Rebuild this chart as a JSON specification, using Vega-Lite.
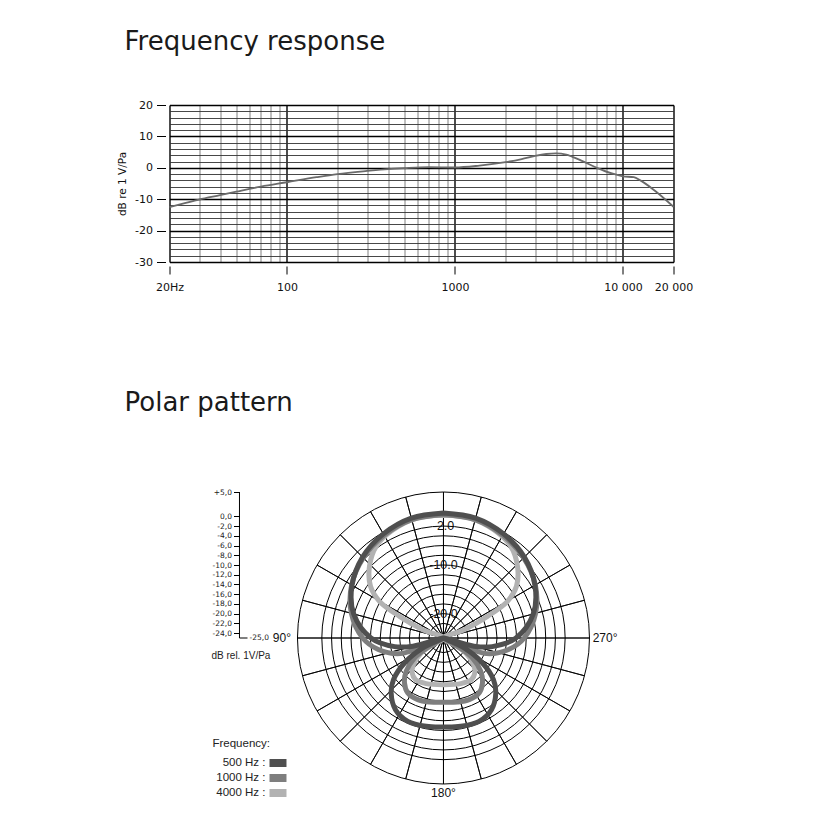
{
 "$schema": "https://vega.github.io/schema/vega-lite/v6.json",
 "background": "white",
 "padding": {"left": 117.5, "top": 29, "right": 10, "bottom": 10},
 "bounds": "flush",
 "spacing": 230,
 "config": {"view": {"stroke": null}, "font": "DejaVu Sans"},
 "vconcat": [
  {
   "width": 504, "height": 157,
   "title": {"text": "Frequency response", "anchor": "start", "frame": "group", "dx": -45, "offset": 44, "font": "DejaVu Sans", "fontSize": 26, "fontWeight": "normal", "color": "#1a1a1a"},
   "data": {"values": [
    {"f":20,"db":-12.5},{"f":25,"db":-11.2},{"f":30,"db":-10.1},{"f":40,"db":-8.7},{"f":50,"db":-7.6},{"f":70,"db":-6.0},{"f":100,"db":-4.6},{"f":150,"db":-3.0},{"f":200,"db":-2.0},{"f":300,"db":-1.0},{"f":400,"db":-0.4},{"f":500,"db":-0.1},{"f":700,"db":0.2},{"f":1000,"db":0.1},{"f":1400,"db":0.7},{"f":2000,"db":1.8},{"f":2500,"db":2.8},{"f":3000,"db":3.8},{"f":3500,"db":4.4},{"f":4000,"db":4.6},{"f":4600,"db":4.2},{"f":5000,"db":3.5},{"f":5700,"db":2.2},{"f":7000,"db":0.0},{"f":8600,"db":-1.8},{"f":10000,"db":-2.7},{"f":11600,"db":-3.0},{"f":12700,"db":-4.0},{"f":15500,"db":-7.3},{"f":20000,"db":-12.4}
   ]},
   "layer": [
    {
     "mark": {"type": "line", "color": "#6a6a6a", "strokeWidth": 1.8, "interpolate": "monotone"},
     "encoding": {
      "x": {"field": "f", "type": "quantitative", "scale": {"type": "log", "domain": [20, 20000], "nice": false},
            "axis": {"orient": "bottom", "values": [20,30,40,50,60,70,80,90,100,200,300,400,500,600,700,800,900,1000,2000,3000,4000,5000,6000,7000,8000,9000,10000,20000],
                     "grid": true,
                     "gridColor": {"condition": {"test": "datum.value == 20 || datum.value == 100 || datum.value == 1000 || datum.value == 10000 || datum.value == 20000", "value": "#000000"}, "value": "#808080"},
                     "gridWidth": {"condition": {"test": "datum.value == 20 || datum.value == 100 || datum.value == 1000 || datum.value == 10000 || datum.value == 20000", "value": 1.4}, "value": 1},
                     "labels": false, "ticks": false, "domain": false, "title": null}},
      "y": {"field": "db", "type": "quantitative", "scale": {"domain": [-30, 20], "nice": false, "zero": false},
            "axis": {"orient": "left", "values": [-30,-28,-26,-24,-22,-20,-18,-16,-14,-12,-10,-8,-6,-4,-2,0,2,4,6,8,10,12,14,16,18,20],
                     "grid": true,
                     "gridColor": {"condition": {"test": "datum.value % 10 == 0", "value": "#000000"}, "value": "#333333"},
                     "gridWidth": {"condition": {"test": "datum.value % 10 == 0", "value": 1.3}, "value": 0.9},
                     "labels": false, "ticks": false, "domain": false, "title": null}}
     }
    },
    {
     "mark": {"type": "line", "opacity": 0},
     "encoding": {
      "x": {"field": "f", "type": "quantitative", "scale": {"type": "log", "domain": [20, 20000], "nice": false},
            "axis": {"orient": "bottom", "values": [20,100,1000,10000,20000], "grid": false, "domain": false, "ticks": true, "tickSize": 8, "tickColor": "#000000", "tickWidth": 1, "offset": 4, "labelPadding": 7,
                     "labelExpr": "datum.value == 20 ? '20Hz' : datum.value == 10000 ? '10 000' : datum.value == 20000 ? '20 000' : '' + datum.value",
                     "labelFont": "DejaVu Sans", "labelFontSize": 11, "labelColor": "#111111", "labelFlush": false, "labelOverlap": false, "title": null}},
      "y": {"field": "db", "type": "quantitative", "scale": {"domain": [-30, 20], "nice": false, "zero": false},
            "axis": {"orient": "left", "values": [-30,-20,-10,0,10,20], "grid": false, "domain": false, "ticks": true, "tickSize": 9, "tickColor": "#000000", "offset": 4, "labelPadding": 4,
                     "labelExpr": "datum.value < 0 ? '-' + abs(datum.value) : '' + datum.value",
                     "labelFont": "DejaVu Sans", "labelFontSize": 11, "labelColor": "#111111", "labelFlush": false, "labelOverlap": false,
                     "title": "dB re 1 V/Pa", "titleFont": "DejaVu Sans", "titleFontSize": 10.5, "titleFontWeight": "normal", "titleColor": "#111111", "titlePadding": 7}}
     }
    }
   ],
   "resolve": {"axis": {"x": "independent", "y": "independent"}}
  },
  {
   "width": 450, "height": 292,
   "title": {"text": "Polar pattern", "anchor": "start", "frame": "group", "dx": -45, "offset": 72, "font": "DejaVu Sans", "fontSize": 26, "fontWeight": "normal", "color": "#1a1a1a"},
   "resolve": {"axis": {"x": "independent", "y": "independent"}},
   "layer": [
    {
     "data": {"values": [{"level":5},{"level":0},{"level":-2},{"level":-4},{"level":-6},{"level":-8},{"level":-10},{"level":-12},{"level":-14},{"level":-16},{"level":-18},{"level":-20},{"level":-22},{"level":-24}]},
     "mark": {"type": "arc", "filled": false, "stroke": "#000000", "strokeWidth": 1, "theta": 0, "theta2": 6.2832},
     "encoding": {
      "x": {"datum": 0, "type": "quantitative", "scale": {"domain": [-56.3, 36.17], "nice": false, "zero": false}, "axis": null},
      "y": {"datum": 0, "type": "quantitative", "scale": {"domain": [-30, 30], "nice": false, "zero": false}, "axis": null},
      "radius": {"field": "level", "type": "quantitative", "scale": {"type": "linear", "domain": [-25, 5], "range": [0, 146], "zero": false}},
      "radius2": {"datum": -25}
     }
    },
    {
     "data": {"values": [{"angle":0},{"angle":15},{"angle":30},{"angle":45},{"angle":60},{"angle":75},{"angle":90},{"angle":105},{"angle":120},{"angle":135},{"angle":150},{"angle":165},{"angle":180},{"angle":195},{"angle":210},{"angle":225},{"angle":240},{"angle":255},{"angle":270},{"angle":285},{"angle":300},{"angle":315},{"angle":330},{"angle":345}]},
     "mark": {"type": "arc", "filled": false, "stroke": "#000000", "strokeWidth": 0.9},
     "encoding": {
      "x": {"datum": 0, "type": "quantitative", "scale": {"domain": [-56.3, 36.17], "nice": false, "zero": false}, "axis": null},
      "y": {"datum": 0, "type": "quantitative", "scale": {"domain": [-30, 30], "nice": false, "zero": false}, "axis": null},
      "theta": {"field": "angle", "type": "quantitative", "scale": {"domain": [0, 360], "range": [6.283185307, 0]}, "stack": null},
      "theta2": {"field": "angle"},
      "radius": {"datum": 5, "type": "quantitative", "scale": {"type": "linear", "domain": [-25, 5], "range": [0, 146], "zero": false}},
      "radius2": {"datum": -25}
     }
    },
    {
     "data": {"values": [
      {"freq":"4000 Hz","i":0,"x":0,"y":25.2},{"freq":"4000 Hz","i":1,"x":-5.62,"y":24.6},{"freq":"4000 Hz","i":2,"x":-10.41,"y":22.2},{"freq":"4000 Hz","i":3,"x":-13.84,"y":18.84},{"freq":"4000 Hz","i":4,"x":-15.21,"y":14.73},{"freq":"4000 Hz","i":5,"x":-15.0,"y":10.62},{"freq":"4000 Hz","i":6,"x":-13.15,"y":7.53},{"freq":"4000 Hz","i":7,"x":-9.04,"y":4.45},{"freq":"4000 Hz","i":8,"x":-4.25,"y":1.71},{"freq":"4000 Hz","i":9,"x":0,"y":0},{"freq":"4000 Hz","i":10,"x":-2.19,"y":-1.37},{"freq":"4000 Hz","i":11,"x":-4.59,"y":-3.08},{"freq":"4000 Hz","i":12,"x":-6.16,"y":-5.48},{"freq":"4000 Hz","i":13,"x":-6.44,"y":-7.19},{"freq":"4000 Hz","i":14,"x":-5.75,"y":-8.56},{"freq":"4000 Hz","i":15,"x":-3.56,"y":-9.38},{"freq":"4000 Hz","i":16,"x":0,"y":-9.59},{"freq":"4000 Hz","i":17,"x":3.56,"y":-9.38},{"freq":"4000 Hz","i":18,"x":5.75,"y":-8.56},{"freq":"4000 Hz","i":19,"x":6.44,"y":-7.19},{"freq":"4000 Hz","i":20,"x":6.16,"y":-5.48},{"freq":"4000 Hz","i":21,"x":4.59,"y":-3.08},{"freq":"4000 Hz","i":22,"x":2.19,"y":-1.37},{"freq":"4000 Hz","i":23,"x":0,"y":0},{"freq":"4000 Hz","i":24,"x":4.25,"y":1.71},{"freq":"4000 Hz","i":25,"x":9.04,"y":4.45},{"freq":"4000 Hz","i":26,"x":13.15,"y":7.53},{"freq":"4000 Hz","i":27,"x":15.0,"y":10.62},{"freq":"4000 Hz","i":28,"x":15.21,"y":14.73},{"freq":"4000 Hz","i":29,"x":13.84,"y":18.84},{"freq":"4000 Hz","i":30,"x":10.41,"y":22.2},{"freq":"4000 Hz","i":31,"x":5.62,"y":24.6},{"freq":"4000 Hz","i":32,"x":0,"y":25.2},
      {"freq":"1000 Hz","i":0,"x":0,"y":25.4},{"freq":"1000 Hz","i":1,"x":-6.5,"y":24.3},{"freq":"1000 Hz","i":2,"x":-12.2,"y":21.1},{"freq":"1000 Hz","i":3,"x":-16.48,"y":16.48},{"freq":"1000 Hz","i":4,"x":-18.88,"y":10.9},{"freq":"1000 Hz","i":5,"x":-18.93,"y":5.07},{"freq":"1000 Hz","i":6,"x":-16.6,"y":0},{"freq":"1000 Hz","i":7,"x":-13.39,"y":-2.36},{"freq":"1000 Hz","i":8,"x":-8.83,"y":-3.21},{"freq":"1000 Hz","i":9,"x":0,"y":0},{"freq":"1000 Hz","i":10,"x":-2.88,"y":-1.71},{"freq":"1000 Hz","i":11,"x":-5.96,"y":-4.11},{"freq":"1000 Hz","i":12,"x":-7.67,"y":-6.85},{"freq":"1000 Hz","i":13,"x":-8.01,"y":-9.25},{"freq":"1000 Hz","i":14,"x":-7.33,"y":-11.3},{"freq":"1000 Hz","i":15,"x":-5.27,"y":-12.67},{"freq":"1000 Hz","i":16,"x":-2.88,"y":-13.15},{"freq":"1000 Hz","i":17,"x":0,"y":-13.22},{"freq":"1000 Hz","i":18,"x":2.88,"y":-13.15},{"freq":"1000 Hz","i":19,"x":5.27,"y":-12.67},{"freq":"1000 Hz","i":20,"x":7.33,"y":-11.3},{"freq":"1000 Hz","i":21,"x":8.01,"y":-9.25},{"freq":"1000 Hz","i":22,"x":7.67,"y":-6.85},{"freq":"1000 Hz","i":23,"x":5.96,"y":-4.11},{"freq":"1000 Hz","i":24,"x":2.88,"y":-1.71},{"freq":"1000 Hz","i":25,"x":0,"y":0},{"freq":"1000 Hz","i":26,"x":8.83,"y":-3.21},{"freq":"1000 Hz","i":27,"x":13.39,"y":-2.36},{"freq":"1000 Hz","i":28,"x":16.6,"y":0},{"freq":"1000 Hz","i":29,"x":18.93,"y":5.07},{"freq":"1000 Hz","i":30,"x":18.88,"y":10.9},{"freq":"1000 Hz","i":31,"x":16.48,"y":16.48},{"freq":"1000 Hz","i":32,"x":12.2,"y":21.1},{"freq":"1000 Hz","i":33,"x":6.5,"y":24.3},{"freq":"1000 Hz","i":34,"x":0,"y":25.4},
      {"freq":"500 Hz","i":0,"x":0,"y":25.7},{"freq":"500 Hz","i":1,"x":-6.6,"y":24.65},{"freq":"500 Hz","i":2,"x":-12.35,"y":21.4},{"freq":"500 Hz","i":3,"x":-16.62,"y":16.62},{"freq":"500 Hz","i":4,"x":-18.79,"y":10.85},{"freq":"500 Hz","i":5,"x":-18.45,"y":4.94},{"freq":"500 Hz","i":6,"x":-14.9,"y":0},{"freq":"500 Hz","i":7,"x":-10.04,"y":-1.77},{"freq":"500 Hz","i":8,"x":-6.28,"y":-1.68},{"freq":"500 Hz","i":9,"x":0,"y":0},{"freq":"500 Hz","i":10,"x":-4.25,"y":-2.05},{"freq":"500 Hz","i":11,"x":-8.01,"y":-5.14},{"freq":"500 Hz","i":12,"x":-10.27,"y":-8.56},{"freq":"500 Hz","i":13,"x":-10.75,"y":-11.3},{"freq":"500 Hz","i":14,"x":-9.86,"y":-14.73},{"freq":"500 Hz","i":15,"x":-7.33,"y":-17.12},{"freq":"500 Hz","i":16,"x":-3.56,"y":-18.15},{"freq":"500 Hz","i":17,"x":0,"y":-18.29},{"freq":"500 Hz","i":18,"x":3.56,"y":-18.15},{"freq":"500 Hz","i":19,"x":7.33,"y":-17.12},{"freq":"500 Hz","i":20,"x":9.86,"y":-14.73},{"freq":"500 Hz","i":21,"x":10.75,"y":-11.3},{"freq":"500 Hz","i":22,"x":10.27,"y":-8.56},{"freq":"500 Hz","i":23,"x":8.01,"y":-5.14},{"freq":"500 Hz","i":24,"x":4.25,"y":-2.05},{"freq":"500 Hz","i":25,"x":0,"y":0},{"freq":"500 Hz","i":26,"x":6.28,"y":-1.68},{"freq":"500 Hz","i":27,"x":10.04,"y":-1.77},{"freq":"500 Hz","i":28,"x":14.9,"y":0},{"freq":"500 Hz","i":29,"x":18.45,"y":4.94},{"freq":"500 Hz","i":30,"x":18.79,"y":10.85},{"freq":"500 Hz","i":31,"x":16.62,"y":16.62},{"freq":"500 Hz","i":32,"x":12.35,"y":21.4},{"freq":"500 Hz","i":33,"x":6.6,"y":24.65},{"freq":"500 Hz","i":34,"x":0,"y":25.7}
     ]},
     "mark": {"type": "line", "strokeWidth": 5, "interpolate": "catmull-rom", "strokeCap": "round", "strokeJoin": "round"},
     "encoding": {
      "x": {"field": "x", "type": "quantitative", "scale": {"domain": [-56.3, 36.17], "nice": false, "zero": false}, "axis": null},
      "y": {"field": "y", "type": "quantitative", "scale": {"domain": [-30, 30], "nice": false, "zero": false},
            "axis": {"orient": "left", "offset": -70, "values": [30,25,23,21,19,17,15,13,11,9,7,5,3,1], "domain": false, "grid": false, "ticks": true, "tickSize": 6, "tickColor": "#000000", "labelPadding": 2,
                     "labelExpr": "datum.value == 30 ? '+5,0' : (datum.value < 25 ? '-' : '') + abs(datum.value - 25) + ',0'",
                     "labelFont": "DejaVu Sans", "labelFontSize": 7.5, "labelColor": "#222222", "labelFlush": false, "labelOverlap": false, "title": null}},
      "color": {"field": "freq", "type": "nominal", "scale": {"domain": ["500 Hz", "1000 Hz", "4000 Hz"], "range": ["#4f4f4f", "#7e7e7e", "#b2b2b2"]}, "legend": null},
      "order": {"field": "i", "type": "quantitative"}
     }
    },
    {
     "data": {"values": [{"label": "-2.0", "level": -2}, {"label": "-10.0", "level": -10}, {"label": "-20.0", "level": -20}]},
     "mark": {"type": "text", "font": "Liberation Sans", "fontSize": 12.5, "color": "#111111", "baseline": "middle", "align": "center"},
     "encoding": {
      "x": {"datum": 0, "type": "quantitative", "scale": {"domain": [-56.3, 36.17], "nice": false, "zero": false}, "axis": null},
      "y": {"datum": 0, "type": "quantitative", "scale": {"domain": [-30, 30], "nice": false, "zero": false}, "axis": null},
      "theta": {"datum": 0, "type": "quantitative", "scale": {"domain": [0, 360], "range": [6.283185307, 0]}},
      "radius": {"field": "level", "type": "quantitative", "scale": {"type": "linear", "domain": [-25, 5], "range": [0, 146], "zero": false}},
      "text": {"field": "label"}
     }
    },
    {
     "data": {"values": [{"label": "90°", "deg": 90}, {"label": "270°", "deg": 270}]},
     "mark": {"type": "text", "font": "Liberation Sans", "fontSize": 12, "color": "#111111", "baseline": "middle", "align": "center"},
     "encoding": {
      "x": {"datum": 0, "type": "quantitative", "scale": {"domain": [-56.3, 36.17], "nice": false, "zero": false}, "axis": null},
      "y": {"datum": 0, "type": "quantitative", "scale": {"domain": [-30, 30], "nice": false, "zero": false}, "axis": null},
      "theta": {"field": "deg", "type": "quantitative", "scale": {"domain": [0, 360], "range": [6.283185307, 0]}},
      "radius": {"datum": 8.2, "type": "quantitative", "scale": {"type": "linear", "domain": [-25, 5], "range": [0, 146], "zero": false}},
      "text": {"field": "label"}
     }
    },
    {
     "data": {"values": [{"label": "180°", "deg": 180}]},
     "mark": {"type": "text", "font": "Liberation Sans", "fontSize": 12, "color": "#111111", "baseline": "middle", "align": "center"},
     "encoding": {
      "x": {"datum": 0, "type": "quantitative", "scale": {"domain": [-56.3, 36.17], "nice": false, "zero": false}, "axis": null},
      "y": {"datum": 0, "type": "quantitative", "scale": {"domain": [-30, 30], "nice": false, "zero": false}, "axis": null},
      "theta": {"field": "deg", "type": "quantitative", "scale": {"domain": [0, 360], "range": [6.283185307, 0]}},
      "radius": {"datum": 6.9, "type": "quantitative", "scale": {"type": "linear", "domain": [-25, 5], "range": [0, 146], "zero": false}},
      "text": {"field": "label"}
     }
    },
    {
     "data": {"values": [{}]},
     "mark": {"type": "rule", "color": "#000000", "strokeWidth": 1},
     "encoding": {
      "x": {"datum": -41.92, "type": "quantitative", "scale": {"domain": [-56.3, 36.17], "nice": false, "zero": false}, "axis": null},
      "y": {"datum": 0, "type": "quantitative", "scale": {"domain": [-30, 30], "nice": false, "zero": false}, "axis": null},
      "y2": {"datum": 30}
     }
    },
    {
     "data": {"values": [{}]},
     "mark": {"type": "rule", "color": "#000000", "strokeWidth": 1},
     "encoding": {
      "x": {"datum": -41.92, "type": "quantitative", "scale": {"domain": [-56.3, 36.17], "nice": false, "zero": false}, "axis": null},
      "x2": {"datum": -40.27},
      "y": {"datum": 0, "type": "quantitative", "scale": {"domain": [-30, 30], "nice": false, "zero": false}, "axis": null}
     }
    },
    {
     "data": {"values": [{}]},
     "mark": {"type": "text", "font": "DejaVu Sans", "fontSize": 7.5, "color": "#222222", "align": "left", "baseline": "middle"},
     "encoding": {
      "x": {"datum": -39.86, "type": "quantitative", "scale": {"domain": [-56.3, 36.17], "nice": false, "zero": false}, "axis": null},
      "y": {"datum": 0, "type": "quantitative", "scale": {"domain": [-30, 30], "nice": false, "zero": false}, "axis": null},
      "text": {"value": "-25,0"}
     }
    },
    {
     "data": {"values": [{}]},
     "mark": {"type": "text", "font": "Liberation Sans", "fontSize": 10, "color": "#222222", "align": "left", "baseline": "middle"},
     "encoding": {
      "x": {"datum": -47.67, "type": "quantitative", "scale": {"domain": [-56.3, 36.17], "nice": false, "zero": false}, "axis": null},
      "y": {"datum": -3.7, "type": "quantitative", "scale": {"domain": [-30, 30], "nice": false, "zero": false}, "axis": null},
      "text": {"value": "dB rel. 1V/Pa"}
     }
    },
    {
     "data": {"values": [{}]},
     "mark": {"type": "text", "font": "Liberation Sans", "fontSize": 11.5, "color": "#222222", "align": "left", "baseline": "middle"},
     "encoding": {
      "x": {"datum": -47.47, "type": "quantitative", "scale": {"domain": [-56.3, 36.17], "nice": false, "zero": false}, "axis": null},
      "y": {"datum": -21.8, "type": "quantitative", "scale": {"domain": [-30, 30], "nice": false, "zero": false}, "axis": null},
      "text": {"value": "Frequency:"}
     }
    },
    {
     "data": {"values": [{"freq": "500 Hz", "label": "500 Hz :"}, {"freq": "1000 Hz", "label": "1000 Hz :"}, {"freq": "4000 Hz", "label": "4000 Hz :"}]},
     "mark": {"type": "rule", "strokeWidth": 8, "strokeCap": "butt"},
     "encoding": {
      "x": {"datum": -35.75, "type": "quantitative", "scale": {"domain": [-56.3, 36.17], "nice": false, "zero": false}, "axis": null},
      "x2": {"datum": -32.26},
      "y": {"datum": -25.68, "type": "quantitative", "scale": {"domain": [-30, 30], "nice": false, "zero": false}, "axis": null},
      "yOffset": {"field": "freq", "type": "nominal", "scale": {"type": "point", "domain": ["500 Hz", "1000 Hz", "4000 Hz"], "range": [0, 30], "padding": 0}},
      "color": {"field": "freq", "type": "nominal", "scale": {"domain": ["500 Hz", "1000 Hz", "4000 Hz"], "range": ["#4f4f4f", "#7e7e7e", "#b2b2b2"]}, "legend": null}
     }
    },
    {
     "data": {"values": [{"freq": "500 Hz", "label": "500 Hz :"}, {"freq": "1000 Hz", "label": "1000 Hz :"}, {"freq": "4000 Hz", "label": "4000 Hz :"}]},
     "mark": {"type": "text", "font": "Liberation Sans", "fontSize": 11.5, "color": "#222222", "align": "right", "baseline": "middle"},
     "encoding": {
      "x": {"datum": -36.57, "type": "quantitative", "scale": {"domain": [-56.3, 36.17], "nice": false, "zero": false}, "axis": null},
      "y": {"datum": -25.68, "type": "quantitative", "scale": {"domain": [-30, 30], "nice": false, "zero": false}, "axis": null},
      "yOffset": {"field": "freq", "type": "nominal", "scale": {"type": "point", "domain": ["500 Hz", "1000 Hz", "4000 Hz"], "range": [0, 30], "padding": 0}},
      "text": {"field": "label"}
     }
    }
   ]
  }
 ]
}
